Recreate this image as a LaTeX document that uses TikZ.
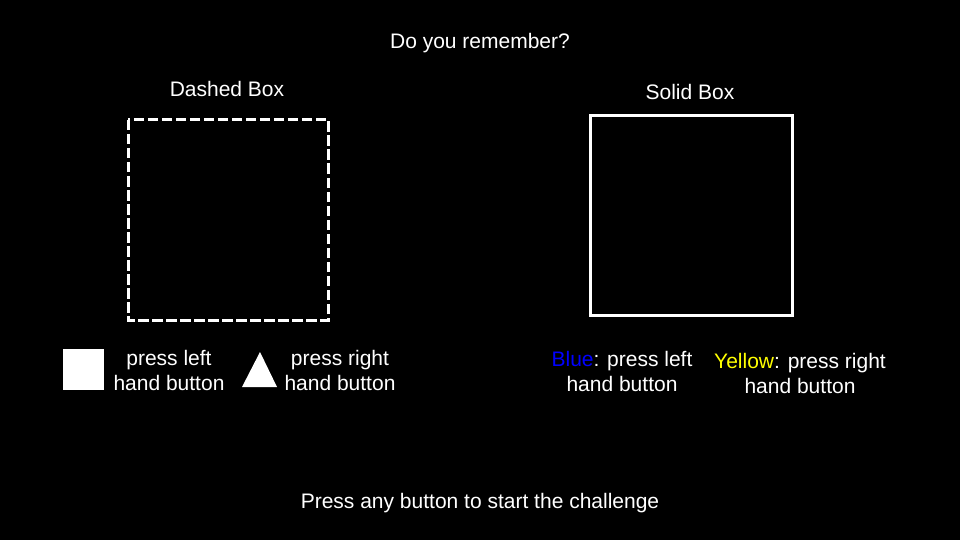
\documentclass[tikz,border=0pt]{standalone}
\usepackage{fontspec}
\setmainfont{Liberation Sans}
\begin{document}
\begin{tikzpicture}[x=1pt,y=-1pt,
  txt/.style={text=white,font=\fontsize{21}{25}\selectfont,align=center,inner sep=0pt},
  boxline/.style={draw=white,line width=3pt},
  dashedbox/.style={boxline,dash pattern=on 10.5pt off 3.5pt},
  shapefill/.style={fill=white,draw=none}]
\fill[black] (0,0) rectangle (960,540);
\useasboundingbox (0,0) rectangle (960,540);
\node[txt] (title) at (480,43) {Do you remember?};
\node[txt] (dlabel) at (227,89) {Dashed Box};
\node[txt] (slabel) at (690,92) {Solid Box};
\draw[dashedbox] (128,120) rectangle (328,320);
\draw[boxline] (590,116) rectangle (792,315);
\fill[shapefill] (63,349) rectangle (104,390);
\fill[shapefill] (260,352) -- (277,387) -- (242,387) -- cycle;
\node[txt] (pl) at (169,370) {press left\\hand button};
\node[txt] (pr) at (340,370) {press right\\hand button};
\node[txt] (bl) at (622,371) {{\color[RGB]{0,0,255}Blue}: press left\\hand button};
\node[txt] (yr) at (800,373) {{\color[RGB]{255,255,0}Yellow}: press right\\hand button};
\node[txt] (bottom) at (480,503) {Press any button to start the challenge};
\end{tikzpicture}
\end{document}
